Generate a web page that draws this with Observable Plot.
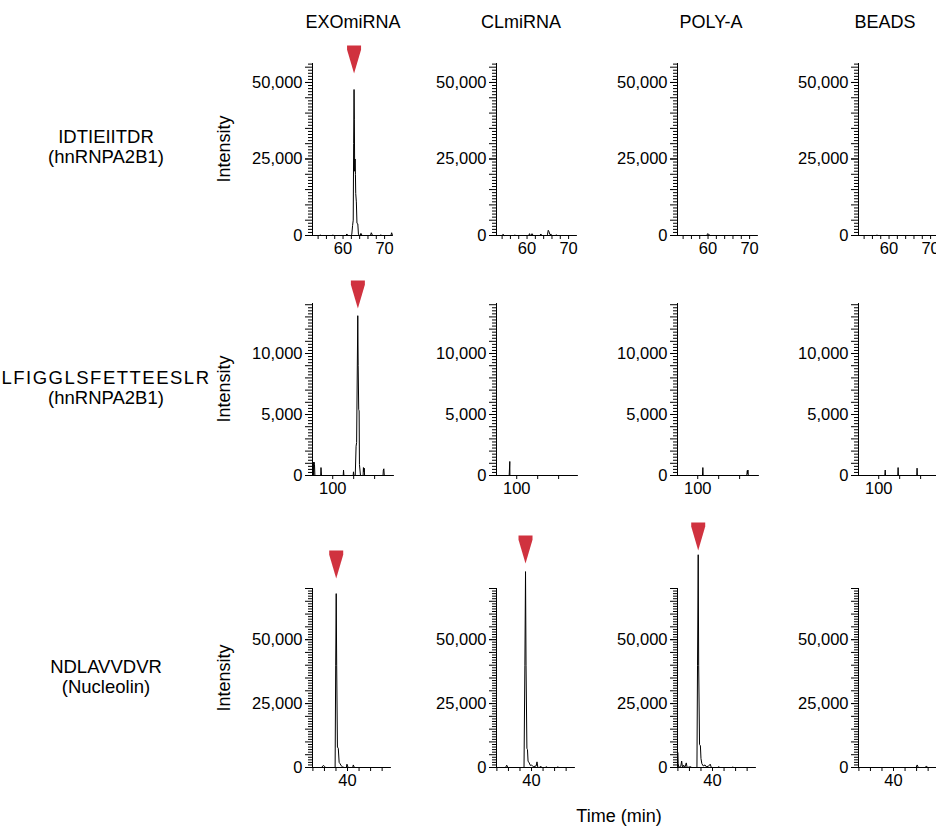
<!DOCTYPE html>
<html><head><meta charset="utf-8">
<script src="https://cdn.jsdelivr.net/npm/d3@7"></script>
<script src="https://cdn.jsdelivr.net/npm/@observablehq/plot@0.6"></script>
<style>
body{margin:0;background:#fff;}
#fig{position:relative;width:936px;height:826px;overflow:hidden;font-family:"Liberation Sans",Arial,Helvetica,sans-serif;color:#000;background:#fff;}
.lbl{position:absolute;font-size:18.5px;white-space:nowrap;line-height:1.1;text-align:center;transform:translate(-50%,-50%);}
.ttl{position:absolute;font-size:18px;white-space:nowrap;line-height:1;transform:translate(-50%,-50%);}
.rot{position:absolute;font-size:18px;white-space:nowrap;transform:translate(-50%,-50%) rotate(-90deg);}
.panel{position:absolute;}
</style></head><body><div id="fig"></div>
<script>
// ---- categories / labels ----
const columns = ["EXOmiRNA", "CLmiRNA", "POLY-A", "BEADS"];
const peptides = ["IDTIEIITDR", "LFIGGLSFETTEESLR", "NDLAVVDVR"];
const proteins = ["(hnRNPA2B1)", "(hnRNPA2B1)", "(Nucleolin)"];
const yAxisTitle = "Intensity";
const xAxisTitle = "Time (min)";

// ---- axis domains and tick labels per row ----
const xDomains = [[52.65, 71.9], [80.7, 158], [33.93, 47.45]];
const yMaxes = [56200, 14100, 70000];
const xTickLabels = [[60, 70], [100], [40]];
const xTickStep = [2, 20, 2];
const yTickLabels = [[0, 25000, 50000], [0, 5000, 10000], [0, 25000, 50000]];
const yMinorStep = [1000, 250, 1000];
const yLongStep = [5000, 1000, 5000];

// ---- chromatogram traces [time, intensity] ----
const r1_exo = [[52.65,0],[54.3,0],[54.5,150],[54.8,0],[57.3,0],[57.5,100],[57.9,0],[60.7,0],[60.9,500],[61.2,0],[61.8,0],[62.1,300],[62.3,3300],[62.45,5000],[62.55,30000],[62.65,47700],[62.72,38000],[62.8,21000],[62.9,25000],[62.98,20000],[63.05,13700],[63.2,11000],[63.35,4000],[63.55,3800],[63.7,500],[63.9,0],[64.1,0],[64.3,700],[64.6,0],[66.6,0],[66.8,900],[67.1,0],[68.8,0],[69,150],[69.4,0],[71.5,0],[71.7,900],[71.9,0]];
const r1_cl = [[52.65,0],[54.0,0],[54.2,400],[54.5,0],[56.8,0],[57,100],[57.4,0],[60.4,0],[60.6,600],[60.8,0],[61.0,0],[61.2,600],[61.5,0],[63.1,0],[63.3,500],[63.6,0],[64.8,0],[64.9,200],[65.1,1700],[65.3,1200],[65.5,300],[65.8,400],[66.0,0],[66.8,0],[67,200],[67.3,0],[71.9,0]];
const r1_poly = [[52.65,0],[56,0],[59.7,0],[59.9,600],[60.2,300],[60.5,0],[66,0],[71.9,0]];
const r1_beads = [[52.65,0],[56.9,0],[57.1,200],[57.3,0],[71.9,0]];

const r2_exo = [[80.7,0],[80.8,1100],[81.1,300],[81.4,1100],[81.8,0],[82.2,1100],[82.6,900],[83,0],[88.5,0],[88.8,650],[89.3,0],[110,0],[110.3,450],[110.7,0],[119.5,0],[119.8,300],[120.3,0],[121.5,0],[122.3,2400],[122.8,2700],[123.9,13100],[124.3,9000],[124.8,5400],[125.2,5300],[125.5,900],[126.5,0],[129.0,0],[129.3,650],[129.8,300],[130.1,600],[130.4,0],[148.0,0],[148.3,450],[148.8,550],[149.2,0],[158,0]];
const r2_cl = [[80.7,0],[92.8,0],[93.4,1150],[93.5,0],[158,0]];
const r2_poly = [[80.7,0],[104.5,0],[104.9,650],[105.2,0],[146.8,0],[147.3,400],[147.6,150],[147.9,450],[148.3,0],[158,0]];
const r2_beads = [[80.7,0],[105.8,0],[106.2,450],[106.5,0],[118.2,0],[118.5,650],[118.8,0],[136.3,0],[136.6,600],[136.9,0],[158,0]];

const r3_exo = [[33.93,0],[35.5,0],[35.8,800],[36.0,500],[36.2,0],[37.85,0],[37.95,40000],[38.04,68000],[38.12,40000],[38.25,8000],[38.4,7500],[38.55,2000],[38.7,1500],[38.9,700],[39.1,300],[39.4,0],[39.8,0],[39.9,1300],[40.1,0],[40.9,0],[41.0,1000],[41.2,0],[47.45,0]];
const r3_cl = [[33.93,0],[35.5,0],[35.7,900],[35.9,0],[38.7,0],[38.85,40000],[38.96,76600],[39.05,40000],[39.2,7500],[39.3,7000],[39.4,2500],[39.6,1800],[39.8,800],[40.0,1000],[40.3,300],[40.8,600],[40.95,2200],[41.1,0],[41.4,0],[41.5,400],[41.9,0],[42.4,0],[42.5,300],[42.8,0],[44.4,0],[44.5,200],[44.8,0],[47.45,0]];
const r3_poly = [[33.93,0],[33.97,5900],[34.05,1500],[34.15,0],[34.5,500],[34.65,2500],[34.8,0],[35.0,900],[35.2,0],[35.45,1800],[35.6,0],[36.2,300],[36.4,0],[37.3,0],[37.4,40000],[37.52,83200],[37.6,40000],[37.75,9000],[37.9,8500],[38.0,3500],[38.15,1500],[38.4,600],[38.7,1000],[38.9,300],[39.3,500],[39.6,1300],[39.8,0],[40.9,0],[41,300],[41.3,0],[43.4,0],[43.5,200],[43.7,0],[47.45,0]];
const r3_beads = [[33.93,0],[43.9,0],[44.1,1000],[44.3,0],[45.5,0],[45.7,600],[45.9,0],[47.45,0]];

// ---- peak markers [time, intensity at arrow tip] ----
const markers = [
  [[[62.65, 52900]], [], [], []],
  [[[124.0, 13690]], [], [], []],
  [[[38.04, 73900]], [[38.96, 79800]], [[37.52, 84900]], []]
];

const traces = [
  [r1_exo, r1_cl, r1_poly, r1_beads],
  [r2_exo, r2_cl, r2_poly, r2_beads],
  [r3_exo, r3_cl, r3_poly, r3_beads]
];

// ---- layout ----
const FONT = '"Liberation Sans", Arial, Helvetica, sans-serif';
const colAxisX = [312, 496, 677, 858];
const rowTop = [63, 303, 588];
const rowH = [172, 172, 179];
const rowW = [80, 81, 78];
const titleX = [353, 521, 711, 885];
const RED = "#d0323f";

const arrowDown = {
  draw(ctx, size) {
    const s = Math.sqrt(size / Math.PI);
    const h = 4 * s, band = 0.6 * s;
    ctx.moveTo(-s, -h); ctx.lineTo(s, -h); ctx.lineTo(s, -h + band);
    ctx.lineTo(0, 0); ctx.lineTo(-s, -h + band); ctx.closePath();
  }
};

const fig = document.getElementById("fig");
function addText(cls, html, x, y) {
  const d = document.createElement("div");
  d.className = cls; d.style.left = x + "px"; d.style.top = y + "px";
  d.innerHTML = html; fig.appendChild(d);
  return d;
}
columns.forEach((c, i) => addText("ttl", c, titleX[i], 22));
const rowLabelY = [147, 388, 677];
const rowLabelSpacing = [0, 1.5, 0];
peptides.forEach((p, i) => addText("lbl", '<span style="letter-spacing:' + rowLabelSpacing[i] + 'px">' + p + "</span><br>" + proteins[i], 106, rowLabelY[i]));
rowTop.forEach((t, i) => addText("rot", yAxisTitle, 224, t + rowH[i] / 2));
addText("ttl", xAxisTitle, 619, 816);

const mL = 70, mR = 14, mT = 80, mB = 32;
for (let r = 0; r < 3; r++) {
  const xd = xDomains[r];
  const yMax = yMaxes[r];
  const allY = d3.range(0, yMax + 1, yMinorStep[r]);
  const yShort = allY.filter(v => v % yLongStep[r] !== 0);
  const yLong = allY.filter(v => v % yLongStep[r] === 0);
  const xT = d3.range(Math.ceil(xd[0] / xTickStep[r]) * xTickStep[r], xd[1] + 1e-9, xTickStep[r]);
  for (let c = 0; c < 4; c++) {
    const chart = Plot.plot({
      width: mL + rowW[r] + mR,
      height: mT + rowH[r] + mB,
      marginLeft: mL, marginRight: mR, marginTop: mT, marginBottom: mB,
      x: {domain: xd},
      y: {domain: [0, yMax]},
      style: {fontSize: "16.5px", fontFamily: FONT, color: "black", background: "transparent", overflow: "visible", maxWidth: "none"},
      marks: [
        Plot.axisY({ticks: yShort, tickSize: 4, tickFormat: () => "", label: null}),
        Plot.axisY({ticks: yLong, tickSize: 7, tickFormat: () => "", label: null}),
        Plot.axisY({ticks: yTickLabels[r], tickSize: 7, tickPadding: 3, tickFormat: d3.format(","), label: null}),
        Plot.axisX({ticks: xT, tickSize: 4, tickPadding: 3, tickFormat: d => xTickLabels[r].includes(d) ? String(d) : "", label: null}),
        Plot.ruleX([xd[0]], {stroke: "black"}),
        Plot.ruleY([0], {stroke: "black"}),
        Plot.line(traces[r][c], {x: d => d[0], y: d => d[1], stroke: "black", strokeWidth: 1}),
        Plot.dot(markers[r][c], {x: d => d[0], y: d => d[1], symbol: arrowDown, r: 7, fill: RED, stroke: "none"})
      ]
    });
    const d = document.createElement("div");
    d.className = "panel";
    d.style.left = (colAxisX[c] - mL) + "px";
    d.style.top = (rowTop[r] - mT) + "px";
    d.style.width = (mL + rowW[r] + mR) + "px";
    d.appendChild(chart);
    fig.appendChild(d);
  }
}
</script></body></html>
